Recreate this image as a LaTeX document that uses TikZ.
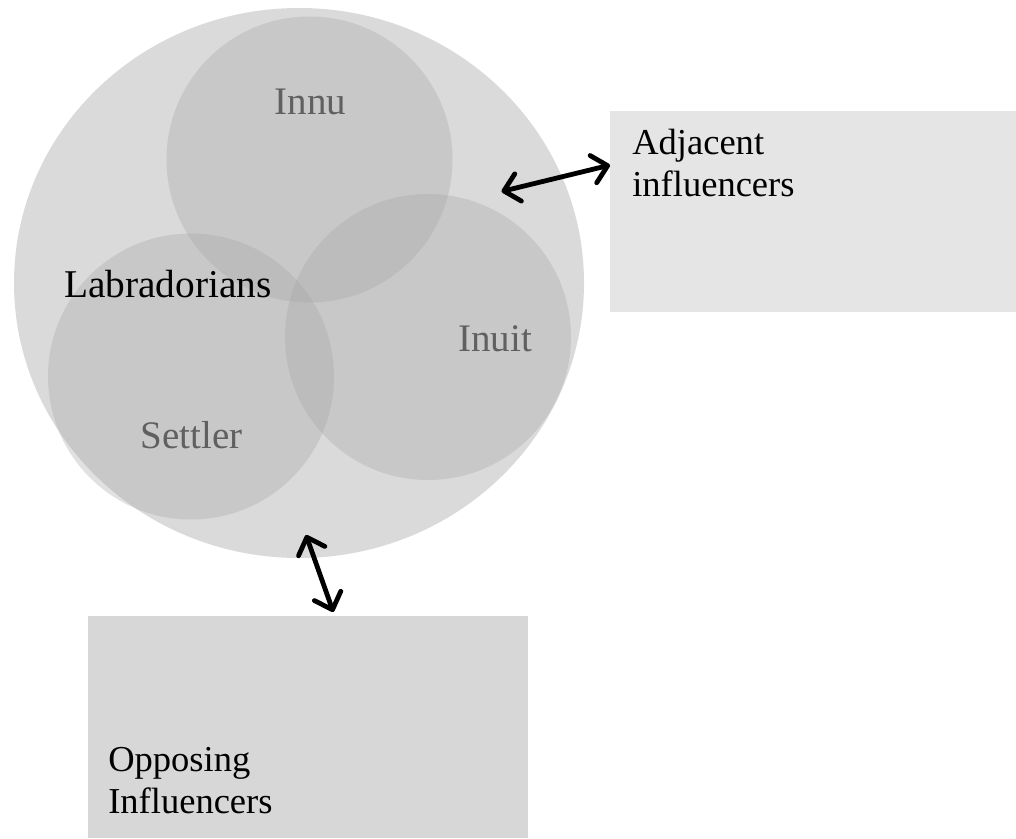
\documentclass[tikz,border=0pt]{standalone}
\usepackage{fontspec}
\setmainfont{Liberation Serif}
\usetikzlibrary{arrows.meta, shapes.geometric, calc}
\definecolor{outerfill}{HTML}{DADADA}
\definecolor{adjfill}{HTML}{E5E5E5}
\definecolor{oppfill}{HTML}{D7D7D7}
\definecolor{groupfill}{HTML}{A4A4A4}
\definecolor{grouptext}{HTML}{606060}

\begin{document}
\begin{tikzpicture}[x=0.75pt, y=-0.75pt,
  region/.style={ellipse, fill=outerfill, inner sep=0pt},
  group/.style={circle, fill=groupfill, fill opacity=0.33, inner sep=0pt, minimum size=214.5pt},
  panel/.style={rectangle, inner sep=0pt, anchor=north west},
  grouplabel/.style={text=grouptext, font=\fontsize{29.25}{35}\selectfont, inner sep=0pt},
  panellabel/.style={font=\fontsize{27.4}{31.5}\selectfont, anchor=base west, inner sep=0pt},
  link/.style={line width=3.6pt, line cap=round, line join=round,
    {Straight Barb[length=11pt,width=21pt,round]}-{Straight Barb[length=11pt,width=21pt,round]}}
]
\useasboundingbox (0,0) rectangle (1016,838);

% the whole population and its three overlapping groups
\node[region, minimum width=427.5pt, minimum height=412.5pt] (lab) at (299,283) {};
\node[group] (innu) at (309.5,159.5) {};
\node[group] (settler) at (191,376.5) {};
\node[group] (inuit) at (428,337) {};

\node[grouplabel, anchor=base] (innuL) at (310.5,115) {Innu};
\node[grouplabel, anchor=base] (inuitL) at (495,351) {Inuit};
\node[grouplabel, anchor=base] (settlerL) at (191.5,448) {Settler};
\node[font=\fontsize{29.5}{35}\selectfont, anchor=base west, inner sep=0pt] (labL) at (64,297) {Labradorians};

% outside influences
\node[panel, fill=adjfill, minimum width=304.5pt, minimum height=150.75pt] (adj) at (610,110.7) {};
\node[panel, fill=oppfill, minimum width=330pt, minimum height=166.7pt] (opp) at (87.3,615.7) {};

\node[panellabel] (adjL) at (632,155) {\begin{tabular}[t]{@{}l@{}}Adjacent\\influencers\end{tabular}};
\node[panellabel] (oppL) at (108,771.7) {\begin{tabular}[t]{@{}l@{}}Opposing\\Influencers\end{tabular}};

% two-way links
\coordinate (adjIn) at (501.5,191.5);
\coordinate (adjOut) at ($(adj.north west)!0.27!(adj.south west)$);
\coordinate (oppIn) at (306,535);
\coordinate (oppOut) at (333.3,612);
\draw[link] (adjIn) -- (adjOut);
\draw[link] (oppIn) -- (oppOut);
\end{tikzpicture}
\end{document}
